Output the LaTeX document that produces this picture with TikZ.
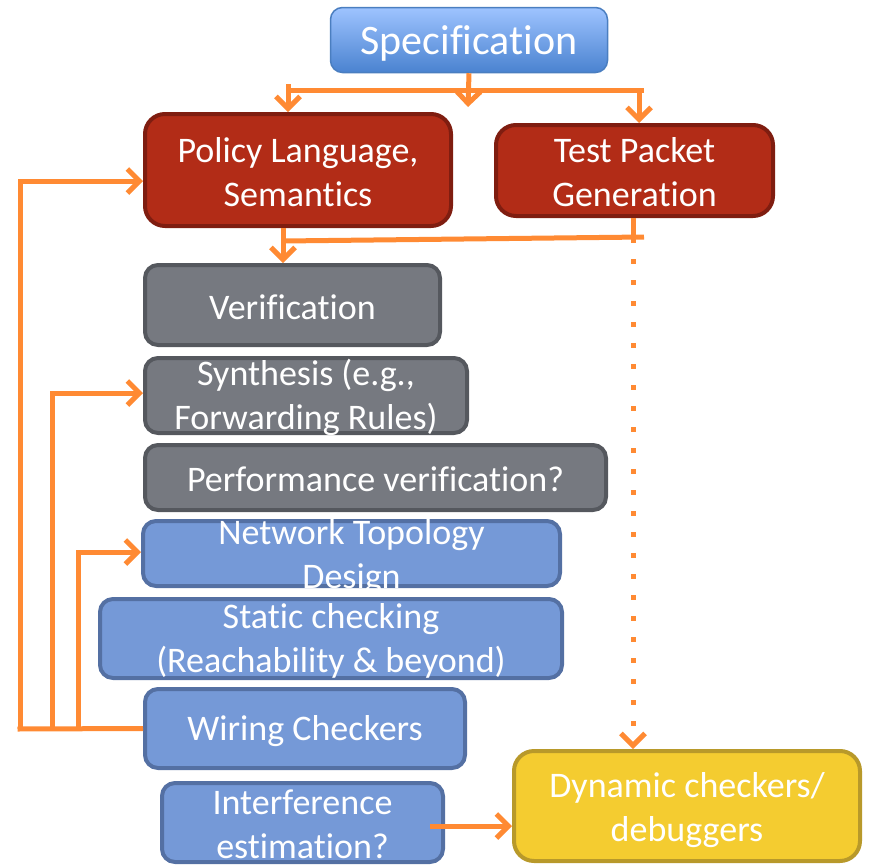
\documentclass[tikz,border=0pt]{standalone}
\usepackage{fontspec}
\setmainfont{Carlito}[Ligatures=NoCommon]
\usetikzlibrary{arrows.meta}
\definecolor{redfill}{HTML}{B22C17}
\definecolor{redline}{HTML}{7F1D10}
\definecolor{grayfill}{HTML}{767980}
\definecolor{grayline}{HTML}{55585E}
\definecolor{bluefill}{HTML}{7599D7}
\definecolor{blueline}{HTML}{5470A3}
\definecolor{yelfill}{HTML}{F4CC30}
\definecolor{yelline}{HTML}{B8992A}
\definecolor{orng}{HTML}{FF8A33}
\definecolor{spectop}{HTML}{9EC3FF}
\definecolor{specbot}{HTML}{4A83D0}
\definecolor{specline}{HTML}{4A7EC0}
\tikzset{
  boxbase/.style={rectangle, inner sep=0pt, line width=4pt},
  redbox/.style={boxbase, fill=redfill, draw=redline, rounded corners=20pt},
  graybox/.style={boxbase, fill=grayfill, draw=grayline, rounded corners=13pt},
  bluebox/.style={boxbase, fill=bluefill, draw=blueline, rounded corners=13pt},
  yelbox/.style={boxbase, fill=yelfill, draw=yelline, rounded corners=20pt},
  txt/.style={text=white, align=center, inner sep=0pt, font=\fontsize{36}{44}\selectfont},
  conn/.style={draw=orng, line width=5pt},
  arr/.style={conn, -{Straight Barb[length=12pt,width=24pt]}},
}
\begin{document}
\begin{tikzpicture}[x=1pt,y=-1pt]
\useasboundingbox (0,0) rectangle (871,865);
% boxes
\node[rectangle, rounded corners=12pt, line width=1.5pt, draw=specline, top color=spectop, bottom color=specbot, minimum width=277pt, minimum height=65pt] (spec) at (469,40) {};
\node[text=white, inner sep=0pt, font=\fontsize{42}{48}\selectfont] (spect) at (469,43) {Specification};

\node[redbox, minimum width=306pt, minimum height=112pt] (pol) at (298,170) {};
\node[txt] (polt) at (298,172) {Policy Language,\\Semantics};
\node[redbox, minimum width=277pt, minimum height=91pt] (tpg) at (634.5,170.5) {};
\node[txt] (tpgt) at (634.5,172) {Test Packet\\Generation};

\node[graybox, minimum width=295pt, minimum height=80pt] (ver) at (292.5,305) {};
\node[txt] (vert) at (292.5,307) {Verification};
\node[graybox, minimum width=322pt, minimum height=75pt] (syn) at (306,395.5) {};
\node[txt] (synt) at (306,397) {Synthesis (e.g.,\\Forwarding Rules)};
\node[graybox, minimum width=461pt, minimum height=65pt] (perf) at (375.5,477.5) {};
\node[txt] (perft) at (375.5,479) {Performance verification?};

\node[bluebox, minimum width=417pt, minimum height=65pt] (ntd) at (351.5,553.5) {};
\node[txt] (ntdt) at (351.5,557) {Network Topology\\Design};
\node[bluebox, minimum width=462pt, minimum height=79pt] (stat) at (331,638.5) {};
\node[txt] (statt) at (331,641) {Static checking\\(Reachability \& beyond)};
\node[bluebox, minimum width=320pt, minimum height=79pt] (wir) at (305,728.5) {};
\node[txt] (wirt) at (305,731) {Wiring Checkers};
\node[bluebox, minimum width=281pt, minimum height=79pt] (intf) at (302.5,822.5) {};
\node[txt] (intft) at (302.5,824) {Interference\\estimation?};
\node[yelbox, minimum width=346pt, minimum height=110pt] (dyn) at (687,806) {};
\node[txt] (dynt) at (687,810) {Dynamic checkers/\\debuggers};

% top connectors
\coordinate (hl) at (288,90);
\coordinate (hr) at (644,90);
\coordinate (sc) at (468,107);
\draw[arr] (spec.south) -- (sc);
\draw[conn] (hl) -- (hr);
\draw[arr] (288,84) -- (hl |- pol.north);
\draw[arr] (639,88) -- (639,123);

% test packet join
\coordinate (j) at (633,238);
\coordinate (jr) at (644,237);
\coordinate (jl) at (283,241);
\coordinate (pv) at (283,228);
\draw[conn] (tpg.south -| j) -- (j);
\draw[conn] (jr) -- (jl);
\draw[arr] (pv) -- (pv |- ver.north);
\draw[arr, dash pattern=on 5pt off 16pt] (j) -- (j |- dyn.north);

% feedback loops
\coordinate (fa) at (20,729);
\coordinate (fb) at (52,729);
\coordinate (fc) at (78,729);
\draw[conn] (wir.west) -- ([xshift=-2.5pt]fa);
\draw[arr] (fa) |- ([yshift=-11pt]pol.west);
\draw[arr] (fb) |- ([yshift=2.5pt]syn.west);
\draw[arr] (fc) |- ([yshift=1.5pt]ntd.west);

% interference to dynamic
\coordinate (ia) at (430,826);
\draw[arr] (ia) -- (ia -| dyn.west);
\end{tikzpicture}
\end{document}
